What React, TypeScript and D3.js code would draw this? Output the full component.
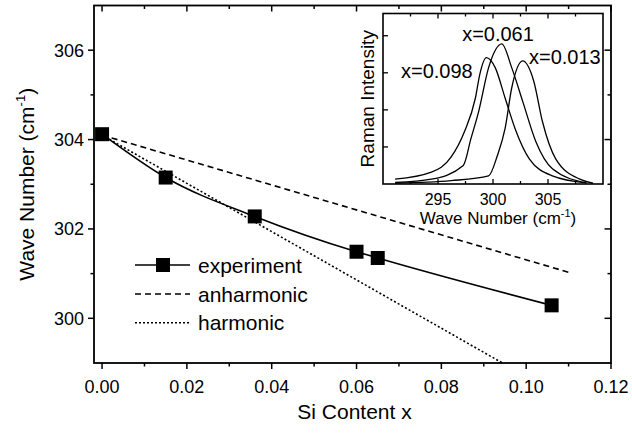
import React from 'react';
import * as d3 from 'd3';

const W = 632;
const H = 434;
const FONT = "'Liberation Sans', Arial, Helvetica, sans-serif";

// ---- main chart data ----
const expX = [0, 0.015, 0.036, 0.06, 0.065, 0.106];
const expY = [304.12, 303.15, 302.28, 301.49, 301.35, 300.29];
const anhX = [0, 0.11];
const anhY = [304.1, 301.03];
const harX = [0, 0.05, 0.0944];
const harY = [304.1, 301.4, 299.0];
const xTicks = [0, 0.02, 0.04, 0.06, 0.08, 0.1, 0.12];
const xMinor = [0.01, 0.03, 0.05, 0.07, 0.09, 0.11];
const yTicks = [300, 302, 304, 306];
const yMinor = [301, 303, 305];
const legendLabels = ['experiment', 'anharmonic', 'harmonic'];

// ---- inset data ----
const insXTicks = [295, 300, 305];
const insXMinor = [292.5, 297.5, 302.5, 307.5];
const insYTicks = [1, 2, 3, 4];
const specNames = ['x=0.098', 'x=0.061', 'x=0.013'];
const s098W = [291.1, 294.4, 296.2, 297.4, 298.4, 298.8, 299.4, 300.2, 301.1, 302.0, 303.3, 305.4, 308.5];
const s098I = [0.13, 0.32, 0.73, 1.41, 2.32, 2.96, 3.41, 3.14, 2.32, 1.5, 0.68, 0.22, 0.03];
const s061W = [291.1, 294.4, 297.3, 298.0, 298.7, 299.6, 300.8, 301.7, 302.7, 303.9, 305.4, 308.5];
const s061I = [0.04, 0.13, 0.5, 1.23, 1.96, 3.14, 3.78, 3.14, 2.23, 1.14, 0.41, 0.03];
const s013W = [291.1, 296.2, 299.6, 300.4, 301.1, 301.7, 302.7, 303.7, 304.5, 305.7, 307.9, 309.1];
const s013I = [0.02, 0.09, 0.22, 0.77, 1.5, 2.59, 3.32, 2.78, 1.68, 0.68, 0.13, 0.02];

export default function App() {
  const L = 94, R = 611, T = 5.5, B = 363;
  const x = d3.scaleLinear().domain([-0.0019, 0.12]).range([L, R]);
  const y = d3.scaleLinear().domain([299, 307]).range([B, T]);

  const line = d3.line<[number, number]>().x(d => x(d[0])).y(d => y(d[1]));
  const expPath = line.curve(d3.curveMonotoneX)(expX.map((v, i) => [v, expY[i]] as [number, number])) || '';
  const lin = d3.line<[number, number]>().x(d => x(d[0])).y(d => y(d[1]));
  const anhPath = lin(anhX.map((v, i) => [v, anhY[i]] as [number, number])) || '';
  const harPath = lin(harX.map((v, i) => [v, harY[i]] as [number, number])) || '';

  // inset
  const iL = 383, iR = 603, iT = 13.5, iB = 184;
  const ix = d3.scaleLinear().domain([290, 310]).range([iL, iR]);
  const iy = d3.scaleLinear().domain([0, 4.6]).range([iB, iT]);
  const sl = d3.line<[number, number]>().x(d => ix(d[0])).y(d => iy(d[1])).curve(d3.curveMonotoneX);
  const specs = [
    [s098W, s098I],
    [s061W, s061I],
    [s013W, s013I],
  ].map(([w, I]) => sl(w.map((v, i) => [v, I[i]] as [number, number])) || '');
  const specLabelPos = [
    { x: 401, y: 77.5, anchor: 'start' },
    { x: 498, y: 40.5, anchor: 'middle' },
    { x: 529, y: 64, anchor: 'start' },
  ];

  const sq = 14;
  const legY = [265, 294, 322.7];
  const dash = ['', '6,4', '2,2'];

  return (
    <div style={{ position: 'fixed', left: 0, top: 0 }}>
      <svg width={W} height={H} viewBox={`0 0 ${W} ${H}`} style={{ display: 'block', background: '#fff' }} fontFamily={FONT}>
        <rect x={0} y={0} width={W} height={H} fill="#fff" />
        <defs>
          <clipPath id="plotclip">
            <rect x={L} y={T} width={R - L} height={B - T} />
          </clipPath>
        </defs>
        {/* data lines */}
        <g clipPath="url(#plotclip)" fill="none" stroke="#000">
          <path d={anhPath} strokeWidth={1.6} strokeDasharray="6,4" />
          <path d={harPath} strokeWidth={1.6} strokeDasharray="2,2.2" />
          <path d={expPath} strokeWidth={1.6} />
        </g>
        {expX.map((v, i) => (
          <rect key={i} x={x(v) - sq / 2} y={y(expY[i]) - sq / 2} width={sq} height={sq} fill="#000" />
        ))}

        {/* frame */}
        <rect x={L} y={T} width={R - L} height={B - T} fill="none" stroke="#000" strokeWidth={1.8} />
        {xTicks.map((t, i) => (
          <g key={'xt' + i}>
            <line x1={x(t)} x2={x(t)} y1={B} y2={B + 6} stroke="#000" strokeWidth={1.5} />
            <line x1={x(t)} x2={x(t)} y1={T} y2={T + 6} stroke="#000" strokeWidth={1.5} />
            <text x={x(t)} y={393} textAnchor="middle" fontSize={18}>{d3.format('.2f')(t)}</text>
          </g>
        ))}
        {xMinor.map((t, i) => (
          <g key={'xm' + i}>
            <line x1={x(t)} x2={x(t)} y1={B} y2={B + 3.5} stroke="#000" strokeWidth={1.5} />
            <line x1={x(t)} x2={x(t)} y1={T} y2={T + 3.5} stroke="#000" strokeWidth={1.5} />
          </g>
        ))}
        {yTicks.map((t, i) => (
          <g key={'yt' + i}>
            <line x1={L - 6} x2={L} y1={y(t)} y2={y(t)} stroke="#000" strokeWidth={1.5} />
            <line x1={R - 6.5} x2={R} y1={y(t)} y2={y(t)} stroke="#000" strokeWidth={1.5} />
            <text x={84} y={y(t) + 6.5} textAnchor="end" fontSize={18}>{t}</text>
          </g>
        ))}
        {yMinor.map((t, i) => (
          <g key={'ym' + i}>
            <line x1={L - 3.5} x2={L} y1={y(t)} y2={y(t)} stroke="#000" strokeWidth={1.5} />
            <line x1={R - 3.5} x2={R} y1={y(t)} y2={y(t)} stroke="#000" strokeWidth={1.5} />
          </g>
        ))}
        <text x={(L + R) / 2 + 2} y={419} textAnchor="middle" fontSize={21}>Si Content x</text>
        <text transform={`translate(34, ${(T + B) / 2}) rotate(-90)`} textAnchor="middle" fontSize={21}>
          Wave Number (cm<tspan fontSize={13} dy={-9}>-1</tspan><tspan dy={9}>)</tspan>
        </text>

        {legendLabels.map((lab, i) => (
          <g key={'lg' + i}>
            <line x1={135} x2={190} y1={legY[i]} y2={legY[i]} stroke="#000" strokeWidth={1.6} strokeDasharray={dash[i] || undefined} />
            {i === 0 && <rect x={163 - sq / 2} y={legY[i] - sq / 2} width={sq} height={sq} fill="#000" />}
            <text x={198} y={legY[i] + 7.5} fontSize={21}>{lab}</text>
          </g>
        ))}

        {/* inset */}
        <rect x={iL} y={iT} width={iR - iL} height={iB - iT} fill="#fff" stroke="#000" strokeWidth={1.6} />
        {insXTicks.map((t, i) => (
          <g key={'ixt' + i}>
            <line x1={ix(t)} x2={ix(t)} y1={iB} y2={iB - 5} stroke="#000" strokeWidth={1.3} />
            <line x1={ix(t)} x2={ix(t)} y1={iT} y2={iT + 5} stroke="#000" strokeWidth={1.3} />
            <text x={ix(t)} y={iB + 21} textAnchor="middle" fontSize={16}>{t}</text>
          </g>
        ))}
        {insXMinor.map((t, i) => (
          <g key={'ixm' + i}>
            <line x1={ix(t)} x2={ix(t)} y1={iB} y2={iB - 3} stroke="#000" strokeWidth={1.3} />
            <line x1={ix(t)} x2={ix(t)} y1={iT} y2={iT + 3} stroke="#000" strokeWidth={1.3} />
          </g>
        ))}
        {insYTicks.map((t, i) => (
          <line key={'iyt' + i} x1={iL} x2={iL + 5} y1={iy(t)} y2={iy(t)} stroke="#000" strokeWidth={1.3} />
        ))}
        <g fill="none" stroke="#000" strokeWidth={1.3}>
          {specs.map((d, i) => <path key={'sp' + i} d={d} />)}
        </g>
        {specNames.map((n, i) => (
          <text key={'sn' + i} x={specLabelPos[i].x} y={specLabelPos[i].y} textAnchor={specLabelPos[i].anchor as any} fontSize={20}>{n}</text>
        ))}
        <text x={(iL + iR) / 2 + 5} y={iB + 40} textAnchor="middle" fontSize={17}>
          Wave Number (cm<tspan fontSize={11} dy={-7}>-1</tspan><tspan dy={7}>)</tspan>
        </text>
        <text transform={`translate(374, ${(iT + iB) / 2}) rotate(-90)`} textAnchor="middle" fontSize={19}>Raman Intensity</text>
      </svg>
    </div>
  );
}
